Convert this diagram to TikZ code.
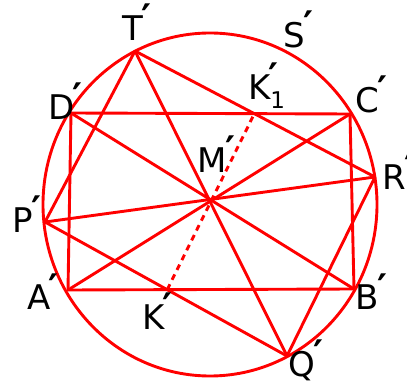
\documentclass[tikz,border=0pt]{standalone}
\usepackage{fontspec}
\setmainfont{DejaVu Sans}
\newcommand\pmk{\kern-1.5pt\raisebox{9pt}{\fontsize{38}{38}\selectfont\bfseries ′}}
\newcommand\subone{\rlap{\kern-1.5pt\raisebox{9pt}{\fontsize{38}{38}\selectfont\bfseries ′}}\raisebox{-9pt}{\fontsize{23}{23}\selectfont 1}}
\begin{document}
\begin{tikzpicture}[x=1pt,y=-1pt,
  geo/.style={draw=red, line width=2.9pt, line join=round},
  dsh/.style={draw=red, line width=2.9pt, dash pattern=on 6pt off 5pt},
  lbl/.style={anchor=base west, inner sep=0pt, font=\fontsize{34}{34}\selectfont}]
\useasboundingbox (0,0) rectangle (407,387);
\coordinate (O) at (210,204.5);
\coordinate (T) at (135,51);
\coordinate (D) at (71,113);
\coordinate (C) at (350,114);
\coordinate (R) at (375,177);
\coordinate (P) at (45,222);
\coordinate (A) at (68,290);
\coordinate (B) at (354,289);
\coordinate (Q) at (287,356);
\coordinate (M) at (intersection of T--Q and P--R);
\coordinate (K) at (intersection of A--B and P--Q);
\coordinate (K1) at (intersection of D--C and T--R);
\draw[geo] (O) ellipse[x radius=167pt, y radius=171.5pt];
\draw[geo] (A) -- (B) -- (C) -- (D) -- cycle;
\draw[geo] (A) -- (C);
\draw[geo] (D) -- (B);
\draw[geo] (T) -- (P) -- (Q) -- (R) -- cycle;
\draw[geo] (T) -- (Q);
\draw[geo] (P) -- (R);
\draw[dsh] (K) -- (K1);
\node[lbl] (lT) at (122,41) {T\pmk};
\node[lbl] (lS) at (283,48) {S\pmk};
\node[lbl] (lK1) at (248,100) {K\subone};
\node[lbl] (lD) at (48,120) {D\pmk};
\node[lbl] (lC) at (355,113) {C\pmk};
\node[lbl] (lM) at (197,173) {M\pmk};
\node[lbl] (lR) at (382,190) {R\pmk};
\node[lbl] (lP) at (12,233) {P\pmk};
\node[lbl] (lA) at (27,310) {A\pmk};
\node[lbl] (lK) at (142,330) {K\pmk};
\node[lbl] (lB) at (355,310) {B\pmk};
\node[lbl] (lQ) at (288,376) {Q\pmk};
\end{tikzpicture}
\end{document}
